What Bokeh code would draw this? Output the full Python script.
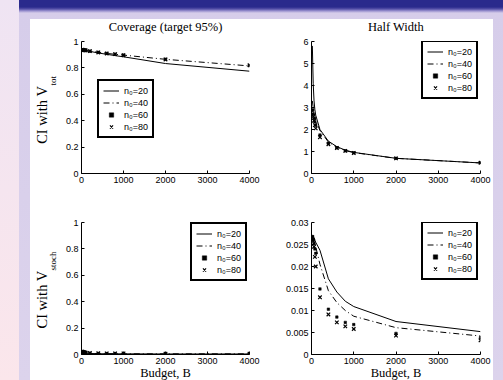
import math
from bokeh.plotting import figure
from bokeh.models import Range1d, FixedTicker, Label, Legend, LegendItem, Spacer
from bokeh.layouts import column, row
from bokeh.embed import file_html
from bokeh.resources import INLINE

# ---------------- data ----------------
budget = [20, 40, 60, 80, 100, 200, 400, 600, 800, 1000, 2000, 4000]
series_names = ["n₀=20", "n₀=40", "n₀=60", "n₀=80"]

cov_tot_20 = [0.935, 0.935, 0.933, 0.932, 0.931, 0.925, 0.913, 0.903, 0.893, 0.884, 0.833, 0.775]
cov_tot_40 = [0.935, 0.935, 0.934, 0.933, 0.932, 0.928, 0.918, 0.910, 0.903, 0.897, 0.865, 0.815]
cov_tot_60 = [0.936, 0.935, 0.934, 0.933, 0.932, 0.927, 0.918, 0.910, 0.904, 0.897, 0.866, 0.818]
cov_tot_80 = [0.937, 0.936, 0.935, 0.934, 0.933, 0.927, 0.917, 0.909, 0.904, 0.896, 0.864, 0.820]

hw_tot_20 = [5.8, 4.1, 3.3, 2.9, 2.65, 2.0, 1.47, 1.22, 1.06, 0.96, 0.69, 0.48]
hw_tot_40 = [3.3, 3.0, 2.8, 2.6, 2.45, 1.95, 1.43, 1.20, 1.04, 0.95, 0.69, 0.48]
hw_tot_60 = [2.9, 2.7, 2.5, 2.35, 2.2, 1.75, 1.37, 1.17, 1.03, 0.94, 0.69, 0.49]
hw_tot_80 = [2.85, 2.6, 2.4, 2.2, 2.05, 1.65, 1.33, 1.16, 1.03, 0.93, 0.69, 0.49]

cov_sto_20 = [0.025, 0.020, 0.016, 0.013, 0.011, 0.008, 0.006, 0.005, 0.005, 0.005, 0.004, 0.004]
cov_sto_40 = [0.026, 0.021, 0.017, 0.014, 0.012, 0.009, 0.007, 0.006, 0.006, 0.005, 0.005, 0.005]
cov_sto_60 = [0.024, 0.020, 0.017, 0.015, 0.013, 0.010, 0.008, 0.007, 0.007, 0.006, 0.006, 0.006]
cov_sto_80 = [0.022, 0.019, 0.017, 0.015, 0.013, 0.011, 0.009, 0.008, 0.008, 0.008, 0.007, 0.007]

hw_sto_20 = [0.0272, 0.0270, 0.0265, 0.0260, 0.0255, 0.0237, 0.0172, 0.0142, 0.0121, 0.0109, 0.0075, 0.0052]
hw_sto_40 = [0.0270, 0.0265, 0.0260, 0.0252, 0.0245, 0.0205, 0.0145, 0.0118, 0.0100, 0.0087, 0.0061, 0.0042]
hw_sto_60 = [0.0268, 0.0262, 0.0252, 0.0240, 0.0230, 0.0149, 0.0103, 0.0085, 0.0073, 0.0068, 0.0048, 0.0038]
hw_sto_80 = [0.0266, 0.0258, 0.0245, 0.0222, 0.0200, 0.0130, 0.0091, 0.0073, 0.0064, 0.0058, 0.0043, 0.0032]

x_ticks = [0, 1000, 2000, 3000, 4000]
x_tick_labels = ["0", "1000", "2000", "3000", "4000"]
cov_ticks = [0, 0.2, 0.4, 0.6, 0.8, 1.0]
cov_tick_labels = ["0", "0.2", "0.4", "0.6", "0.8", "1"]
hw_tot_ticks = [0, 1, 2, 3, 4, 5, 6]
hw_tot_tick_labels = ["0", "1", "2", "3", "4", "5", "6"]
hw_sto_ticks = [0, 0.005, 0.01, 0.015, 0.02, 0.025, 0.03]
hw_sto_tick_labels = ["0", "0.005", "0.01", "0.015", "0.02", "0.025", "0.03"]

title_left = "Coverage (target 95%)"
title_right = "Half Width"
xlabel = "Budget, B"
ylabel_main = "CI with V"
ylabel_sub_top = "tot"
ylabel_sub_bottom = "stoch"

SERIF = "Liberation Serif"
SANS = "Liberation Sans"
XMAX = 4000


def make_fig(w, h, left, right, top, bottom, ymax, yticks, ylabels):
    p = figure(width=w, height=h, output_backend="svg", toolbar_location=None,
               x_range=Range1d(0, XMAX), y_range=Range1d(0, ymax), title=None,
               min_border_left=left, min_border_right=right,
               min_border_top=top, min_border_bottom=bottom)
    p.border_fill_color = "white"
    p.background_fill_color = "white"
    p.outline_line_color = None
    p.grid.visible = False
    for ax in (p.xaxis[0], p.yaxis[0]):
        ax.axis_line_color = "black"
        ax.axis_line_width = 1
        ax.major_tick_in = 3
        ax.major_tick_out = 0
        ax.major_tick_line_color = "black"
        ax.minor_tick_line_color = None
        ax.major_label_text_font = SANS
        ax.major_label_text_font_size = "9px"
        ax.major_label_text_color = "black"
        ax.major_label_standoff = 3
    p.xaxis.ticker = FixedTicker(ticks=x_ticks)
    p.xaxis.major_label_overrides = dict(zip(x_ticks, x_tick_labels))
    p.yaxis.ticker = FixedTicker(ticks=yticks)
    p.yaxis.major_label_overrides = dict(zip(yticks, ylabels))
    return p


def make_strip(w, h):
    s = figure(width=w, height=h, output_backend="svg", toolbar_location=None,
               x_range=Range1d(0, w), y_range=Range1d(0, h), title=None,
               x_axis_location=None, y_axis_location=None, min_border=0)
    s.border_fill_color = "white"
    s.background_fill_color = "white"
    s.outline_line_color = None
    s.grid.visible = False
    return s


def add_series(p, ys, loc):
    r1 = p.line(budget, ys[0], line_color="black", line_width=1)
    r2 = p.line(budget, ys[1], line_color="black", line_width=1, line_dash="6 3 1 3")
    r3 = p.scatter(budget, ys[2], marker="square", size=2.5, fill_color="black",
                   line_color="black", line_width=0.5)
    r4 = p.scatter(budget, ys[3], marker="x", size=5, line_color="black", line_width=1.2)
    items = [LegendItem(label=n, renderers=[r]) for n, r in zip(series_names, [r1, r2, r3, r4])]
    leg = Legend(items=items, location=loc, border_line_color="black", border_line_width=2,
                 border_line_alpha=1.0,
                 background_fill_color="white", background_fill_alpha=1,
                 padding=4, spacing=1, margin=0,
                 label_text_font=SANS, label_text_font_size="9px", label_text_color="black",
                 label_height=11, glyph_height=11, glyph_width=16, label_standoff=5)
    p.add_layout(leg)


def text(p, x, y, s, size, angle=0.0, align="left"):
    p.add_layout(Label(x=x, y=y, text=s, text_font=SERIF, text_font_size=size, angle=angle,
                       text_align=align, text_baseline="alphabetic", text_color="black"))


# ---------------- plots ----------------
p1 = make_fig(220, 169, 21, 31, 6, 31, 1.0, cov_ticks, cov_tick_labels)
p2 = make_fig(213, 169, 31, 13, 6, 31, 6.0, hw_tot_ticks, hw_tot_tick_labels)
p3 = make_fig(220, 163, 21, 31, 18, 13, 1.0, cov_ticks, cov_tick_labels)
p4 = make_fig(213, 163, 31, 13, 18, 13, 0.03, hw_sto_ticks, hw_sto_tick_labels)

add_series(p1, [cov_tot_20, cov_tot_40, cov_tot_60, cov_tot_80], (16, 35))
add_series(p2, [hw_tot_20, hw_tot_40, hw_tot_60, hw_tot_80], (110, 74))
add_series(p3, [cov_sto_20, cov_sto_40, cov_sto_60, cov_sto_80], (109, 73))
add_series(p4, [hw_sto_20, hw_sto_40, hw_sto_60, hw_sto_80], (110, 74))

# text strips (pixel coordinates inside each strip)
s_left = make_strip(30, 361)     # y-axis labels
s_top = make_strip(433, 16)      # titles
s_bot = make_strip(433, 13)      # x-axis labels

text(s_top, 105, 8.5, title_left, "12.5px", align="center")
text(s_top, 335.5, 8.5, title_right, "12.5px", align="center")

text(s_left, 11, 236.7, ylabel_main, "14.5px", angle=math.pi / 2)
text(s_left, 22, 295, ylabel_sub_top, "9px", angle=math.pi / 2)
text(s_left, 11, 52, ylabel_main, "14.5px", angle=math.pi / 2)
text(s_left, 22, 110, ylabel_sub_bottom, "9px", angle=math.pi / 2)

text(s_bot, 105, 7.5, xlabel, "12.5px", align="center")
text(s_bot, 335.5, 7.5, xlabel, "12.5px", align="center")

content = row(s_left, column(s_top, row(p1, p2), row(p3, p4), s_bot,
                             styles={"background-color": "white"}),
              styles={"background-color": "white"})

bg = ("linear-gradient(to bottom, #efe4f3, #fbe6eb) 0 0 / 19px 100% no-repeat, "
      "linear-gradient(to bottom, #2a2a8c 0px, #2a2a8c 7px, #5550a8 9px, #9c94d0 11px, "
      "#d6cdea 13px, #dcd3ec 100%)")

page = column(
    Spacer(width=503, height=19),
    row(Spacer(width=30, height=361), content, Spacer(width=10, height=361)),
    styles={"background": bg},
)

open("out.html", "w").write(file_html(page, INLINE))
